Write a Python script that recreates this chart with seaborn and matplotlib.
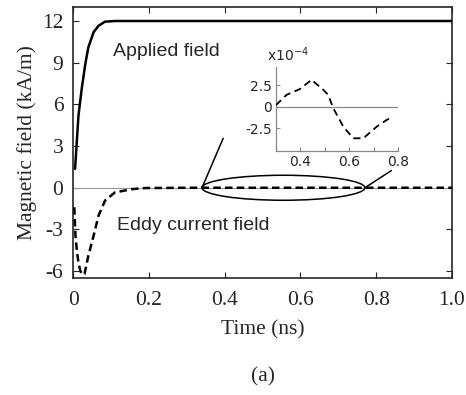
import numpy as np
import pandas as pd
import seaborn as sns
import matplotlib
matplotlib.use("Agg")
import matplotlib.pyplot as plt
from matplotlib.patches import Ellipse

# ---- data ----
t_applied = [0.005, 0.010, 0.014, 0.023, 0.032, 0.040, 0.054, 0.067, 0.084, 0.11, 0.15, 0.3, 0.6, 1.0]
h_applied = [1.36, 3.5, 5.2, 7.2, 8.9, 10.1, 11.2, 11.66, 11.95, 12.0, 12.0, 12.0, 12.0, 12.0]

t_eddy = [0.003, 0.006, 0.010, 0.014, 0.019, 0.024, 0.030, 0.040, 0.054, 0.067, 0.084, 0.11, 0.155, 0.19, 0.3, 0.6, 1.0]
h_eddy = [-1.4, -3.4, -4.6, -5.4, -6.0, -6.25, -6.2, -4.9, -3.45, -2.0, -0.93, -0.34, -0.1, -0.02, 0.0, 0.0, 0.0]

t_zoom = [0.30, 0.344, 0.398, 0.446, 0.494, 0.514, 0.535, 0.576, 0.617, 0.658, 0.713, 0.754, 0.78]
h_zoom = [0.2, 1.4, 2.06, 3.14, 1.98, 1.4, -0.15, -2.29, -3.64, -3.64, -2.29, -1.51, -1.13]  # x1e-4

x_ticks = [0, 0.2, 0.4, 0.6, 0.8, 1.0]
x_ticklabels = ["0", "0.2", "0.4", "0.6", "0.8", "1.0"]
y_ticks = [-6, -3, 0, 3, 6, 9, 12]
y_ticklabels = ["-6", "-3", "0", "3", "6", "9", "12"]
inset_xticks = [0.3, 0.4, 0.5, 0.6, 0.7, 0.8]
inset_xticklabels = ["", "0.4", "", "0.6", "", "0.8"]
inset_yticks = [-2.5, 0, 2.5]
inset_yticklabels = ["-2.5", "0", "2.5"]

sns.set_style("ticks")
plt.rcParams["font.family"] = ["Liberation Serif", "DejaVu Serif"]
plt.rcParams["mathtext.fontset"] = "dejavusans"

df_a = pd.DataFrame({"t": t_applied, "h": h_applied})
df_e = pd.DataFrame({"t": t_eddy, "h": h_eddy})
df_z = pd.DataFrame({"t": t_zoom, "h": h_zoom})

fig = plt.figure(figsize=(4.66, 3.95), dpi=100)
ax = fig.add_axes([0.157, 0.296, 0.813, 0.686])

ax.axhline(0, color="#999999", lw=0.8, zorder=1)
sns.lineplot(data=df_a, x="t", y="h", ax=ax, color="black", lw=1.8, zorder=3)
sns.lineplot(data=df_e, x="t", y="h", ax=ax, color="black", lw=1.8, zorder=3)
ax.lines[-1].set_dashes([3.0, 1.7])

ax.set_xlim(0, 1.0)
ax.set_ylim(-6.5, 13.0)
ax.set_xticks(x_ticks)
ax.set_xticklabels(x_ticklabels)
ax.set_yticks(y_ticks)
ax.set_yticklabels(y_ticklabels)
ax.tick_params(direction="in", length=4, width=0.8, labelsize=15.5, top=True, right=True, pad=7)
ax.tick_params(axis="x", pad=9)
for s in ax.spines.values():
    s.set_linewidth(1.2)
ax.set_xlabel("Time (ns)", fontsize=15.5, labelpad=8)
ax.set_ylabel("Magnetic field (kA/m)", fontsize=15.5, labelpad=4)

sans = ["Liberation Sans", "DejaVu Sans"]
ax.text(0.105, 9.8, "Applied field", fontsize=14, family=sans, ha="left", va="center")
ax.text(0.115, -2.7, "Eddy current field", fontsize=14, family=sans, ha="left", va="center")

ell = Ellipse((0.555, 0), width=0.43, height=1.8, fill=False, ec="black", lw=1.1, zorder=4)
ax.add_patch(ell)
ax.plot([0.34, 0.396], [0, 3.56], color="black", lw=1.1)
ax.plot([0.77, 0.84], [0, 1.24], color="black", lw=1.1)

# inset
ins = fig.add_axes([0.592, 0.618, 0.262, 0.213])
ins.patch.set_alpha(0)
ins.axhline(0, color="#888888", lw=0.9, zorder=1)
sns.lineplot(data=df_z, x="t", y="h", ax=ins, color="black", lw=1.3, zorder=3)
ins.lines[-1].set_dashes([4, 2.5])
ins.set_xlim(0.3, 0.8)
ins.set_ylim(-5.1, 4.65)
ins.set_xticks(inset_xticks)
ins.set_xticklabels(inset_xticklabels)
ins.set_yticks(inset_yticks)
ins.set_yticklabels(inset_yticklabels)
ins.set_xlabel("")
ins.set_ylabel("")
for side in ["top", "right"]:
    ins.spines[side].set_visible(False)
for side in ["left", "bottom"]:
    ins.spines[side].set_color("#888888")
    ins.spines[side].set_linewidth(0.9)
ins.tick_params(direction="in", length=3, color="#888888", labelsize=10, pad=3)
for lab in ins.get_xticklabels() + ins.get_yticklabels():
    lab.set_family("DejaVu Sans")
ins.text(-0.07, 1.03, "x10$^{-4}$", transform=ins.transAxes, fontsize=10,
         family="DejaVu Sans", ha="left", va="bottom")

fig.text(0.565, 0.045, "(a)", fontsize=15.5, ha="center", va="center")

fig.savefig("out.png", dpi=100)
